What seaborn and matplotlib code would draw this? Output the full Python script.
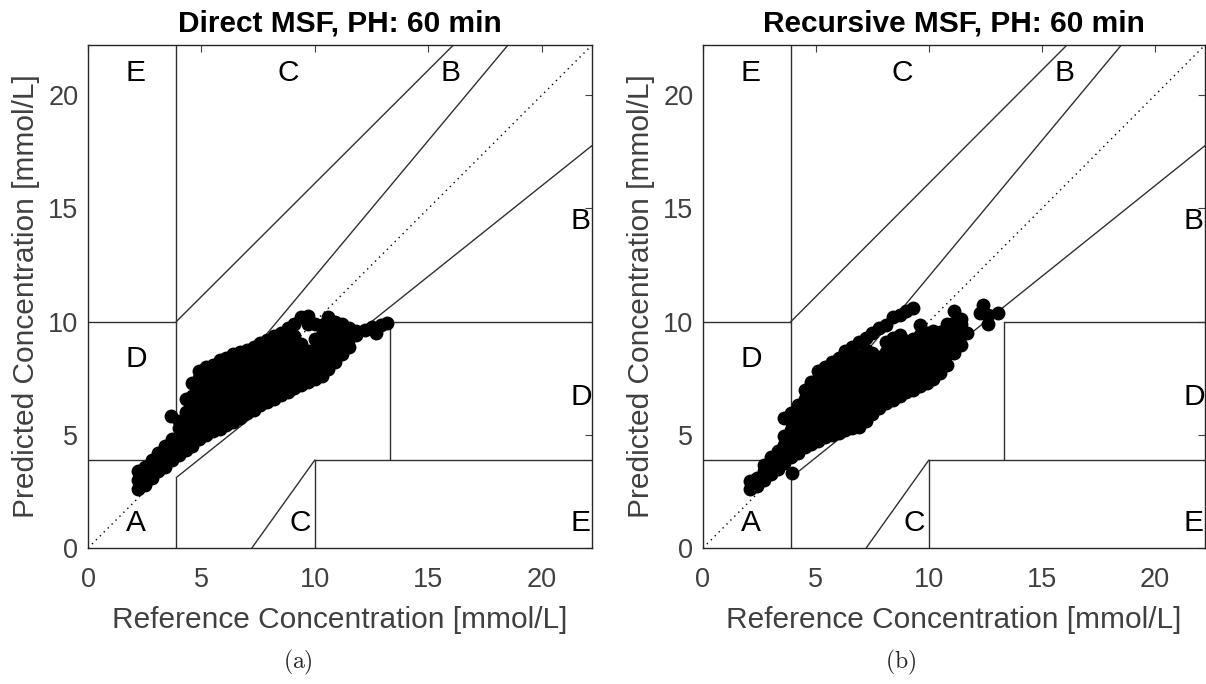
import matplotlib
matplotlib.use("Agg")
import matplotlib.pyplot as plt
import numpy as np
import pandas as pd
import seaborn as sns

sns.set_theme(style="white")
plt.rcParams['font.family'] = ['Liberation Sans', 'DejaVu Sans']
plt.rcParams['mathtext.fontset'] = 'cm'

# ---------------- data (mmol/L) ----------------
# columns of points: (reference value, [predicted values])
direct_cols = [
    (2.2, [2.6, 3.0, 3.4]),
    (2.5, [2.8, 3.2, 3.6]),
    (2.8, [3.1, 3.5, 3.9]),
    (3.1, [3.4, 3.8, 4.2]),
    (3.4, [3.6, 4.0, 4.5]),
    (3.65, [5.85]),
    (3.7, [3.9, 4.3, 4.8]),
    (4.0, [4.1, 4.5, 4.9, 5.3, 5.6]),
    (4.3, [4.35, 4.8, 5.2, 5.6, 6.0, 6.6]),
    (4.6, [4.5, 4.9, 5.35, 5.8, 6.25, 6.7, 7.3]),
    (4.9, [4.8, 5.25, 5.7, 6.15, 6.6, 7.05, 7.5, 7.8]),
    (5.2, [5.0, 5.45, 5.9, 6.35, 6.8, 7.25, 7.65, 8.0]),
    (5.5, [5.15, 5.6, 6.05, 6.5, 6.95, 7.4, 7.8, 8.1]),
    (5.8, [5.25, 5.7, 6.15, 6.6, 7.05, 7.5, 7.9, 8.3]),
    (6.1, [5.45, 5.9, 6.35, 6.8, 7.25, 7.7, 8.1, 8.4]),
    (6.4, [5.55, 6.0, 6.45, 6.9, 7.35, 7.8, 8.2, 8.55]),
    (6.7, [5.75, 6.2, 6.65, 7.1, 7.55, 8.0, 8.4, 8.65]),
    (7.0, [5.95, 6.4, 6.85, 7.3, 7.75, 8.2, 8.75]),
    (7.3, [6.1, 6.55, 7.0, 7.45, 7.9, 8.4, 8.9]),
    (7.6, [6.3, 6.75, 7.2, 7.65, 8.1, 8.6, 9.05]),
    (7.9, [6.45, 6.9, 7.35, 7.8, 8.25, 8.75, 9.2]),
    (8.2, [6.6, 7.05, 7.5, 7.95, 8.4, 8.9, 9.35]),
    (8.5, [6.75, 7.2, 7.65, 8.1, 8.55, 9.0, 9.5]),
    (8.8, [6.9, 7.35, 7.8, 8.25, 8.7, 9.2, 9.7]),
    (9.1, [7.05, 7.5, 7.95, 8.4, 8.85, 9.35, 9.9]),
    (9.4, [7.2, 7.65, 8.1, 8.55, 9.0, 10.2]),
    (9.7, [7.35, 7.8, 8.25, 8.7, 9.9, 10.25]),
    (10.0, [7.45, 7.9, 8.35, 8.8, 9.25, 9.9]),
    (10.3, [7.6, 8.05, 8.5, 8.95, 9.4, 9.85]),
    (10.6, [7.9, 8.35, 8.8, 9.25, 9.7, 10.2]),
    (10.9, [8.2, 8.65, 9.1, 9.55, 10.0]),
    (11.2, [8.55, 9.0, 9.45, 9.9]),
    (11.5, [8.9, 9.3, 9.7]),
    (11.8, [9.4, 9.6]),
    (12.2, [9.65]),
    (12.5, [9.75]),
    (12.7, [9.5]),
    (12.9, [9.85]),
    (13.2, [9.95]),
]

recursive_cols = [
    (2.1, [2.6, 2.95]),
    (2.4, [2.75, 3.1]),
    (2.7, [3.0, 3.4, 3.65]),
    (3.0, [3.25, 3.65, 4.0]),
    (3.3, [3.5, 3.9, 4.3]),
    (3.6, [3.75, 4.15, 4.55, 4.95, 5.75]),
    (3.95, [3.3]),
    (3.9, [4.0, 4.4, 4.8, 5.2, 5.6, 5.95]),
    (4.2, [4.2, 4.6, 5.0, 5.4, 5.8, 6.3]),
    (4.5, [4.45, 4.85, 5.3, 5.75, 6.2, 6.6, 7.0]),
    (4.8, [4.6, 5.05, 5.5, 5.95, 6.4, 6.85, 7.35]),
    (5.1, [4.75, 5.2, 5.65, 6.1, 6.55, 7.0, 7.45, 7.8]),
    (5.4, [4.9, 5.35, 5.8, 6.25, 6.7, 7.15, 7.6, 8.0]),
    (5.7, [5.0, 5.45, 5.9, 6.35, 6.8, 7.25, 7.7, 8.2]),
    (6.0, [5.1, 5.55, 6.0, 6.45, 6.9, 7.35, 7.8, 8.4]),
    (6.3, [5.2, 5.65, 6.1, 6.55, 7.0, 7.45, 7.9, 8.35, 8.7]),
    (6.6, [5.3, 5.75, 6.2, 6.65, 7.1, 7.55, 8.0, 8.45, 8.9]),
    (6.9, [5.35, 5.8, 6.25, 6.7, 7.15, 7.6, 8.05, 8.5, 9.1]),
    (7.2, [5.6, 6.05, 6.5, 6.95, 7.4, 7.85, 8.3, 8.75, 9.3]),
    (7.5, [5.9, 6.35, 6.8, 7.25, 7.7, 8.15, 8.6, 9.5]),
    (7.8, [6.2, 6.65, 7.1, 7.55, 8.0, 8.45, 9.7]),
    (8.1, [6.4, 6.85, 7.3, 7.75, 8.2, 8.65, 9.1, 9.85]),
    (8.4, [6.55, 7.0, 7.45, 7.9, 8.35, 8.8, 9.3, 10.2]),
    (8.7, [6.7, 7.15, 7.6, 8.05, 8.5, 8.95, 9.4, 10.3]),
    (9.0, [6.9, 7.35, 7.8, 8.25, 8.7, 9.15, 10.45]),
    (9.3, [7.0, 7.45, 7.9, 8.35, 8.8, 9.25, 10.6]),
    (9.6, [7.15, 7.6, 8.05, 8.5, 8.95, 9.4, 9.85]),
    (9.9, [7.3, 7.75, 8.2, 8.65, 9.1, 9.5]),
    (10.2, [7.45, 7.9, 8.35, 8.8, 9.25, 9.6]),
    (10.5, [7.75, 8.2, 8.65, 9.1, 9.55]),
    (10.8, [8.1, 8.55, 9.0, 9.45, 9.9]),
    (11.1, [8.6, 9.05, 9.5, 9.95, 10.45]),
    (11.4, [8.95, 9.4, 9.9, 10.1]),
    (11.7, [9.5]),
    (12.25, [10.4]),
    (12.4, [10.75]),
    (12.6, [9.9, 10.3]),
    (13.05, [10.4]),
]

titles = ["Direct MSF, PH: 60 min", "Recursive MSF, PH: 60 min"]
captions = ["(a)", "(b)"]
xlabel = "Reference Concentration [mmol/L]"
ylabel = "Predicted Concentration [mmol/L]"
ticks = [0, 5, 10, 15, 20]

# Clarke error grid boundaries (mg/dL), converted to mmol/L
MGDL = 18.0
AX_MAX = 400 / MGDL
zone_seg_x = [(0, 175/3), (175/3, 400/1.2), (70, 70), (0, 70), (70, 290), (70, 70),
              (70, 400), (180, 180), (180, 400), (240, 240), (240, 400), (130, 180)]
zone_seg_y = [(70, 70), (70, 400), (84, 400), (180, 180), (180, 400), (0, 56),
              (56, 320), (0, 70), (70, 70), (70, 180), (180, 180), (0, 70)]
zone_labels = ["A", "D", "E", "C", "C", "E", "D", "B", "B"]
zone_label_x = [30, 30, 30, 150, 160, 383, 383, 383, 280]
zone_label_y = [20, 150, 378, 378, 20, 20, 120, 260, 378]


def to_frame(cols):
    rows = [(x, y) for x, ys in cols for y in ys]
    return pd.DataFrame(rows, columns=["ref", "pred"])


frames = [to_frame(direct_cols), to_frame(recursive_cols)]

fig = plt.figure(figsize=(12.06, 6.84), dpi=100)
axes_pos = [[0.0730, 0.1988, 0.4179, 0.7354], [0.5829, 0.1988, 0.4163, 0.7354]]
axis_grey = "#404040"
line_grey = "#303030"

for i in range(2):
    ax = fig.add_axes(axes_pos[i])
    # zone lines
    ax.plot([0, AX_MAX], [0, AX_MAX], color="black", linestyle=(0, (1, 3)), lw=1.0, zorder=1)
    for sx, sy in zip(zone_seg_x, zone_seg_y):
        ax.plot([v / MGDL for v in sx], [v / MGDL for v in sy], color=line_grey, lw=1.0, zorder=1)
    sns.scatterplot(data=frames[i], x="ref", y="pred", ax=ax, color="black",
                    s=100, edgecolor="black", linewidth=0, zorder=3, legend=False)
    for lab, lx, ly in zip(zone_labels, zone_label_x, zone_label_y):
        ax.text(lx / MGDL, ly / MGDL, lab, fontsize=21.5, ha="left", va="center",
                color="black", zorder=4)
    ax.set_xlim(0, AX_MAX)
    ax.set_ylim(0, AX_MAX)
    ax.set_xticks(ticks)
    ax.set_yticks(ticks)
    ax.tick_params(direction="in", length=5, width=0.8, top=True, right=True,
                   labelsize=19.5, colors=axis_grey, labelcolor=axis_grey)
    ax.tick_params(axis="x", pad=14)
    ax.tick_params(axis="y", pad=7)
    for sp in ax.spines.values():
        sp.set_color("#262626")
        sp.set_linewidth(1.0)
    ax.set_xlabel(xlabel, fontsize=21.5, color=axis_grey, labelpad=9)
    ax.set_ylabel(ylabel, fontsize=21.5, color=axis_grey, labelpad=6)
    ax.set_title(titles[i], fontsize=21.5, fontweight="bold", color="black", pad=10)
    fig.text(0.247 + 0.5 * i, 0.031, r"$\mathrm{" + captions[i] + "}$", fontsize=17,
             ha="center", va="center")

fig.savefig("out.png", dpi=100)
